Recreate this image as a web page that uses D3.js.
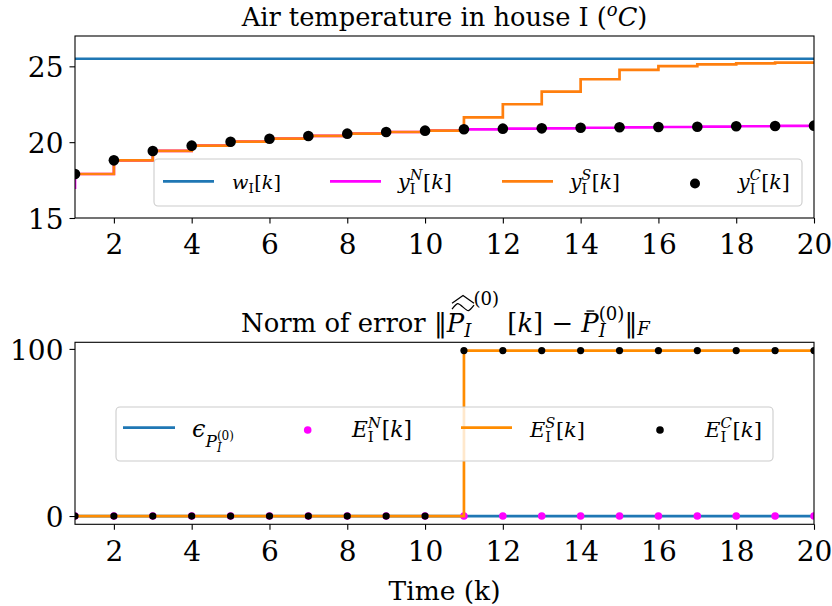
<!DOCTYPE html>
<html><head><meta charset="utf-8">
<script src="https://cdn.jsdelivr.net/npm/d3@7"></script>
<style>
body{margin:0;background:#fff}
text{font-family:"DejaVu Serif";fill:#000}
</style>
</head><body>
<svg id="c" width="832" height="606"></svg>
<script>
// ---------- data ----------
const kSteps = [1,2,3,4,5,6,7,8,9,10,11,12,13,14,15,16,17,18,19,20];
const kWithStart = [0,1,2,3,4,5,6,7,8,9,10,11,12,13,14,15,16,17,18,19,20];
const wRef = [25.5,25.5,25.5,25.5,25.5,25.5,25.5,25.5,25.5,25.5,25.5,25.5,25.5,25.5,25.5,25.5,25.5,25.5,25.5,25.5];
const yNominal = [17.0,17.90,18.80,19.42,19.77,20.03,20.23,20.41,20.56,20.67,20.76,20.85,20.89,20.91,20.95,20.98,21.00,21.02,21.05,21.07,21.09];
const ySpoofed = [17.90,18.80,19.42,19.77,20.03,20.23,20.41,20.56,20.67,20.76,21.64,22.50,23.33,24.15,24.76,25.02,25.13,25.20,25.24,25.27];
const yCorrected = [17.90,18.80,19.42,19.77,20.03,20.23,20.41,20.56,20.67,20.76,20.85,20.89,20.91,20.95,20.98,21.00,21.02,21.05,21.07,21.09];
const epsThreshold = [0,0,0,0,0,0,0,0,0,0,0,0,0,0,0,0,0,0,0,0];
const errNominal = [0,0,0,0,0,0,0,0,0,0,0,0,0,0,0,0,0,0,0,0];
const errSpoofed = [0,0,0,0,0,0,0,0,0,0,99,99,99,99,99,99,99,99,99,99];
const errCorrected = [0,0,0,0,0,0,0,0,0,0,99,99,99,99,99,99,99,99,99,99];
const xTickValues = [2,4,6,8,10,12,14,16,18,20];
const yTickTop = [15,20,25];
const yTickBottom = [0,100];

// ---------- layout ----------
const FONT = '"DejaVu Serif"';
const svg = d3.select('#c');
const X0 = 75, X1 = 814;
const P1 = {t:36, b:218}, P2 = {t:342.3, b:524.3};
const BLUE = '#1f77b4', ORANGE = '#ff7f0e', ORANGE2 = '#ff8c00', MAG = '#ff00ff';
const LW = 2.7, TICKFS = 28;
const x = d3.scaleLinear().domain([1,20]).range([X0,X1]);
const yT = d3.scaleLinear().domain([15,27]).range([P1.b,P1.t]);
const yB = d3.scaleLinear().domain([-4.95,103.95]).range([P2.b,P2.t]);

function buildLabel(parent, items, fs){
  const g = parent.append('g').attr('font-family', FONT);
  let prevStart = 0, prevEnd = 0;
  const pos = {};
  items.forEach(it=>{
    const start = it.same ? prevStart : prevEnd;
    const sx = start + (it.dx||0)*fs;
    const t = g.append('text').attr('x', sx).attr('y', (it.dy||0)*fs)
      .attr('font-size', fs*(it.s||1))
      .attr('font-style', it.i ? 'italic' : 'normal')
      .style('white-space','pre')
      .text(it.t);
    const w = t.node().getComputedTextLength();
    const end = sx + w;
    if(it.id) pos[it.id] = {x0: sx, x1: end};
    if(!it.same) prevStart = start;
    prevEnd = it.same ? Math.max(prevEnd, end) : end;
  });
  return {g, pos, width: prevEnd, fs};
}
function mathLabel(parent, x0, y0, items, fs, anchor, targetW){
  let r = buildLabel(parent, items, fs);
  if(targetW){ const nfs = fs*targetW/r.width; r.g.remove(); r = buildLabel(parent, items, nfs); }
  const off = anchor === 'middle' ? x0 - r.width/2 : x0;
  r.g.attr('transform', `translate(${off},${y0})`);
  return r;
}

const defs = svg.append('defs');
defs.append('clipPath').attr('id','clip1').append('rect')
  .attr('x',X0).attr('y',P1.t).attr('width',X1-X0).attr('height',P1.b-P1.t);
defs.append('clipPath').attr('id','clip2').append('rect')
  .attr('x',X0).attr('y',P2.t).attr('width',X1-X0).attr('height',P2.b-P2.t);

function drawAxes(y, yTicks, pb){
  const gx = svg.append('g').attr('transform',`translate(0,${pb.b})`)
    .call(d3.axisBottom(x).tickValues(xTickValues).tickSize(5.5).tickPadding(11).tickFormat(d3.format('d')));
  const gy = svg.append('g').attr('transform',`translate(${X0},0)`)
    .call(d3.axisLeft(y).tickValues(yTicks).tickSize(5.5).tickPadding(6).tickFormat(d3.format('d')));
  [gx,gy].forEach(g=>{
    g.select('.domain').remove();
    g.attr('font-size',TICKFS).attr('font-family',FONT);
    g.selectAll('text').attr('fill','#000');
    g.selectAll('line').attr('stroke','#000').attr('stroke-width',1.1);
  });
  gy.selectAll('text').attr('dy','0.37em');
  svg.append('rect').attr('x',X0).attr('y',pb.t).attr('width',X1-X0).attr('height',pb.b-pb.t)
    .attr('fill','none').attr('stroke','#000').attr('stroke-width',1.1);
}

// ---------- top plot ----------
const g1 = svg.append('g').attr('clip-path','url(#clip1)');
const stepTop = d3.line().x(d=>x(d[0])).y(d=>yT(d[1])).curve(d3.curveStepAfter);
const lineTop = d3.line().x(d=>x(d[0])).y(d=>yT(d[1]));
g1.append('path').attr('d', lineTop(d3.zip(kSteps,wRef)))
  .attr('fill','none').attr('stroke',BLUE).attr('stroke-width',LW);
g1.append('path').attr('d', stepTop(d3.zip(kWithStart,yNominal)))
  .attr('fill','none').attr('stroke',MAG).attr('stroke-width',LW);
g1.append('path').attr('d', stepTop(d3.zip(kSteps,ySpoofed)))
  .attr('fill','none').attr('stroke',ORANGE).attr('stroke-width',LW);
g1.selectAll('circle.c').data(d3.zip(kSteps,yCorrected)).join('circle')
  .attr('cx',d=>x(d[0])).attr('cy',d=>yT(d[1])).attr('r',5.3).attr('fill','#000');

drawAxes(yT, yTickTop, P1);

// top legend
const L1 = svg.append('g');
L1.append('rect').attr('x',154).attr('y',159).attr('width',648).attr('height',47).attr('rx',4)
  .attr('fill','#fff').attr('fill-opacity',0.8).attr('stroke','#cccccc').attr('stroke-width',1.1);
[[163,BLUE],[330,MAG],[502,ORANGE]].forEach(([lx,c])=>{
  L1.append('line').attr('x1',lx).attr('x2',lx+51).attr('y1',181.3).attr('y2',181.3)
    .attr('stroke',c).attr('stroke-width',LW);
});
L1.append('circle').attr('cx',695).attr('cy',183.5).attr('r',5).attr('fill','#000');
const kBr = [{t:'[',dx:.03},{t:'k',i:true},{t:']'}];
const supLbl = (base, sup) => [{t:base,i:true},{t:'I',s:.7,dy:.25},{t:sup,i:true,s:.7,dy:-.42,same:true}].concat(kBr);
mathLabel(L1, 232, 189, [{t:'w',i:true},{t:'I',s:.7,dy:.22}].concat(kBr), 21, 'start', 49);
mathLabel(L1, 398, 189, supLbl('y','N'), 21, 'start', 54);
mathLabel(L1, 570, 189, supLbl('y','S'), 21, 'start', 50);
mathLabel(L1, 738, 189, supLbl('y','C'), 21, 'start', 52);

// top title
mathLabel(svg, (X0+X1)/2, 25.5, [{t:'Air temperature in house I ('},{t:'o',i:true,s:.7,dy:-.36},{t:'C',i:true},{t:')'}], 26, 'middle', 406);

// ---------- bottom plot ----------
const g2 = svg.append('g').attr('clip-path','url(#clip2)');
const stepBot = d3.line().x(d=>x(d[0])).y(d=>yB(d[1])).curve(d3.curveStepAfter);
const lineBot = d3.line().x(d=>x(d[0])).y(d=>yB(d[1]));
g2.append('path').attr('d', lineBot(d3.zip(kSteps,epsThreshold)))
  .attr('fill','none').attr('stroke',BLUE).attr('stroke-width',LW);
g2.selectAll('circle.n').data(d3.zip(kSteps,errNominal)).join('circle').attr('class','n')
  .attr('cx',d=>x(d[0])).attr('cy',d=>yB(d[1])).attr('r',3.8).attr('fill',MAG);
g2.append('path').attr('d', stepBot(d3.zip(kSteps,errSpoofed)))
  .attr('fill','none').attr('stroke',ORANGE2).attr('stroke-width',LW);
g2.selectAll('circle.k').data(d3.zip(kSteps,errCorrected)).join('circle').attr('class','k')
  .attr('cx',d=>x(d[0])).attr('cy',d=>yB(d[1])).attr('r',3.6).attr('fill','#000');

drawAxes(yB, yTickBottom, P2);

// bottom legend
const L2 = svg.append('g');
L2.append('rect').attr('x',116).attr('y',407).attr('width',657).attr('height',54).attr('rx',4)
  .attr('fill','#fff').attr('fill-opacity',0.8).attr('stroke','#cccccc').attr('stroke-width',1.1);
L2.append('line').attr('x1',123).attr('x2',175).attr('y1',427.7).attr('y2',427.7).attr('stroke',BLUE).attr('stroke-width',LW);
L2.append('circle').attr('cx',307.7).attr('cy',430).attr('r',3.8).attr('fill',MAG);
L2.append('line').attr('x1',461).attr('x2',512).attr('y1',427.7).attr('y2',427.7).attr('stroke',ORANGE2).attr('stroke-width',LW);
L2.append('circle').attr('cx',660).attr('cy',430).attr('r',3.8).attr('fill','#000');
mathLabel(L2, 192, 436.7, [{t:'ϵ',i:true},{t:'P',i:true,s:.7,dy:.42},{t:'I',i:true,s:.5,dy:.62},{t:'(0)',s:.5,dy:.12,same:true}], 21, 'start', 42);
mathLabel(L2, 352, 437, supLbl('E','N'), 21, 'start', 60);
mathLabel(L2, 530, 437, supLbl('E','S'), 21, 'start', 55);
mathLabel(L2, 705, 437, supLbl('E','C'), 21, 'start', 57);

// bottom title
const T2 = mathLabel(svg, (X0+X1)/2 + 1, 331.7, [
  {t:'Norm of error ‖'},
  {t:'P',i:true,id:'P1'},
  {t:'I',i:true,s:.7,dy:.2,id:'I1'},
  {t:'(0)',s:.7,dy:-1.05,dx:.08},
  {t:' [',dx:0},{t:'k',i:true},{t:'] − '},
  {t:'P',i:true,id:'P2'},
  {t:'I',i:true,s:.7,dy:.22},
  {t:'(0)',s:.7,dy:-.45,same:true},
  {t:'‖'},{t:'F',i:true,s:.7,dy:.12}
], 26, 'middle', 409);
{
  const p = T2.pos, fs = T2.fs;
  const hx0 = p.P1.x0 + 0.2*fs, hx1 = p.I1.x1 + 0.1*fs, hm = (hx0+hx1)/2;
  T2.g.append('path').attr('d',`M${hx0},${-1.1*fs} L${hm},${-1.4*fs} L${hx1},${-1.1*fs}`)
    .attr('fill','none').attr('stroke','#000').attr('stroke-width',1.3);
  const ty = -0.95*fs, w = hx1-hx0;
  T2.g.append('path').attr('d',`M${hx0},${ty+2} C${hx0+w*0.25},${ty-5} ${hx0+w*0.25},${ty-5} ${hm},${ty} S${hx1-w*0.25},${ty+5} ${hx1},${ty-2}`)
    .attr('fill','none').attr('stroke','#000').attr('stroke-width',1.3);
  T2.g.append('line').attr('x1',p.P2.x0+0.2*fs).attr('x2',p.P2.x0+0.5*fs)
    .attr('y1',-0.8*fs).attr('y2',-0.8*fs).attr('stroke','#000').attr('stroke-width',1.3);
}

// x label
mathLabel(svg, (X0+X1)/2, 600, [{t:'Time (k)'}], 26, 'middle', 112);
</script>
</body></html>
